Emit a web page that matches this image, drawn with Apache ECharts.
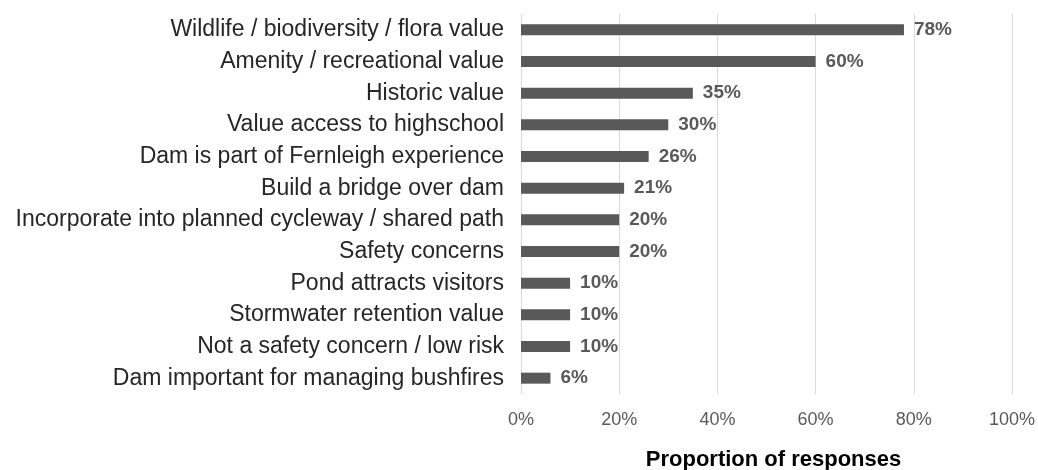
<!DOCTYPE html>
<html><head><meta charset="utf-8">
<script src="https://cdn.jsdelivr.net/npm/echarts@6/dist/echarts.min.js"></script>
<style>html,body{margin:0;padding:0;background:#fff}#c{width:1038px;height:470px}</style>
</head><body><div id="c"></div>
<script>
const categories = [
  "Wildlife / biodiversity / flora value",
  "Amenity / recreational value",
  "Historic value",
  "Value access to highschool",
  "Dam is part of Fernleigh experience",
  "Build a bridge over dam",
  "Incorporate into planned cycleway / shared path",
  "Safety concerns",
  "Pond attracts visitors",
  "Stormwater retention value",
  "Not a safety concern / low risk",
  "Dam important for managing bushfires"
];
const values = [78, 60, 35, 30, 26, 21, 20, 20, 10, 10, 10, 6];
const axisTitle = "Proportion of responses";

const chart = echarts.init(document.getElementById('c'));
chart.setOption({
  animation: false,
  grid: {left: 521, right: 26, top: 14, bottom: 76, containLabel: false, outerBoundsMode: 'none'},
  xAxis: {
    type: 'value', min: 0, max: 100, interval: 20,
    name: axisTitle, nameLocation: 'middle', nameGap: 55,
    nameTextStyle: {fontFamily: 'Liberation Sans', fontWeight: 'bold', fontSize: 22, color: '#000', padding: [0, 0, 0, 14]},
    axisLabel: {formatter: '{value}%', fontFamily: 'Liberation Sans', fontSize: 18, color: '#595959', margin: 17},
    axisLine: {show: false}, axisTick: {show: false},
    splitLine: {show: true, lineStyle: {color: '#d9d9d9', width: 1}}
  },
  yAxis: {
    type: 'category', data: categories, inverse: true,
    axisLine: {show: false}, axisTick: {show: false},
    axisLabel: {interval: 0, fontFamily: 'Liberation Sans', fontSize: 23, color: '#262626', margin: 17}
  },
  series: [{
    type: 'bar', data: values, barWidth: 11,
    itemStyle: {color: '#595959'},
    label: {show: true, position: 'right', distance: 10, formatter: '{c}%',
      fontFamily: 'Liberation Sans', fontWeight: 'bold', fontSize: 19, color: '#595959'}
  }]
});
</script></body></html>
